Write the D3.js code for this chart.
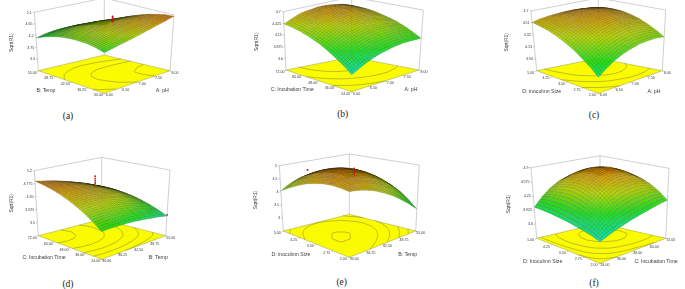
<!DOCTYPE html>
<html>
<head>
<meta charset="utf-8">
<script src="https://cdn.jsdelivr.net/npm/d3@7"></script>
<style>
  html, body { margin: 0; padding: 0; background: #fff; }
  svg { display: block; }
  text { font-family: "Liberation Sans", Arial, sans-serif; fill: #3a3a3a; }
  .caption { font-family: "Liberation Serif", "Times New Roman", serif; fill: #222; font-size: 9.5px; }
</style>
</head>
<body>
<script>
// factor ticks
const phTicks = [6, 6.5, 7, 7.5, 8];
const tempTicks = [30, 36.25, 42.5, 48.75, 55];
const timeTicks = [24, 36, 48, 60, 72];
const sizeTicks = [2, 2.75, 3.5, 4.25, 5];

// response axis ticks per plot
const zTicksA = [3.3, 3.75, 4.2, 4.65, 5.1];
const zTicksB = [3.6, 3.875, 4.15, 4.425, 4.7];
const zTicksC = [3.94, 4.13, 4.32, 4.51, 4.7];
const zTicksD = [3.5, 3.925, 4.35, 4.775, 5.2];
const zTicksE = [3, 3.5, 4, 4.5, 5];
const zTicksF = [3.6, 3.925, 4.25, 4.575, 4.9];

// Sqrt(R1). row = left floor axis low to high, column = right floor axis low to high
const surfaceA = [
  [4.34, 4.41, 4.49, 4.56, 4.65, 4.74, 4.84, 4.94, 5.05],
  [4.43, 4.50, 4.58, 4.65, 4.71, 4.79, 4.86, 4.94, 5.03],
  [4.48, 4.55, 4.61, 4.69, 4.75, 4.81, 4.86, 4.91, 4.96],
  [4.49, 4.56, 4.64, 4.70, 4.75, 4.79, 4.83, 4.85, 4.88],
  [4.48, 4.55, 4.63, 4.68, 4.71, 4.75, 4.76, 4.76, 4.76],
  [4.44, 4.51, 4.58, 4.63, 4.65, 4.66, 4.66, 4.65, 4.63],
  [4.36, 4.44, 4.49, 4.54, 4.55, 4.56, 4.54, 4.50, 4.45],
  [4.25, 4.33, 4.38, 4.41, 4.43, 4.41, 4.39, 4.33, 4.25],
  [4.11, 4.19, 4.24, 4.26, 4.26, 4.24, 4.19, 4.13, 4.03]
];
const surfaceB = [
  [3.69, 3.79, 3.88, 3.95, 4.00, 4.04, 4.06, 4.06, 4.05],
  [3.84, 3.95, 4.04, 4.11, 4.16, 4.19, 4.20, 4.19, 4.16],
  [3.96, 4.08, 4.18, 4.25, 4.30, 4.33, 4.33, 4.30, 4.26],
  [4.08, 4.20, 4.30, 4.36, 4.41, 4.43, 4.43, 4.39, 4.34],
  [4.18, 4.30, 4.39, 4.46, 4.50, 4.51, 4.50, 4.46, 4.40],
  [4.26, 4.38, 4.46, 4.54, 4.58, 4.58, 4.56, 4.51, 4.45],
  [4.33, 4.44, 4.53, 4.59, 4.61, 4.63, 4.60, 4.55, 4.49],
  [4.38, 4.48, 4.56, 4.61, 4.64, 4.64, 4.63, 4.58, 4.50],
  [4.41, 4.50, 4.58, 4.61, 4.64, 4.64, 4.61, 4.58, 4.50]
];
const surfaceC = [
  [3.99, 4.08, 4.16, 4.22, 4.26, 4.29, 4.30, 4.30, 4.28],
  [4.10, 4.19, 4.27, 4.33, 4.37, 4.40, 4.40, 4.39, 4.36],
  [4.19, 4.29, 4.37, 4.43, 4.47, 4.49, 4.49, 4.47, 4.43],
  [4.28, 4.37, 4.45, 4.50, 4.54, 4.56, 4.55, 4.53, 4.49],
  [4.35, 4.44, 4.51, 4.56, 4.59, 4.60, 4.60, 4.57, 4.53],
  [4.41, 4.49, 4.55, 4.59, 4.62, 4.63, 4.62, 4.60, 4.56],
  [4.46, 4.52, 4.57, 4.61, 4.63, 4.64, 4.63, 4.61, 4.57],
  [4.49, 4.54, 4.58, 4.61, 4.62, 4.63, 4.62, 4.60, 4.57],
  [4.52, 4.55, 4.57, 4.58, 4.59, 4.59, 4.58, 4.57, 4.55]
];
const surfaceD = [
  [3.90, 3.91, 3.91, 3.90, 3.88, 3.85, 3.81, 3.77, 3.71],
  [4.09, 4.12, 4.12, 4.12, 4.09, 4.05, 4.00, 3.93, 3.84],
  [4.26, 4.29, 4.31, 4.30, 4.27, 4.22, 4.15, 4.06, 3.94],
  [4.41, 4.45, 4.46, 4.45, 4.41, 4.35, 4.27, 4.16, 4.03],
  [4.54, 4.57, 4.58, 4.56, 4.52, 4.45, 4.36, 4.24, 4.10],
  [4.65, 4.67, 4.67, 4.64, 4.59, 4.52, 4.42, 4.30, 4.15],
  [4.74, 4.75, 4.73, 4.69, 4.63, 4.55, 4.45, 4.33, 4.18],
  [4.81, 4.79, 4.76, 4.71, 4.64, 4.56, 4.45, 4.33, 4.20],
  [4.86, 4.81, 4.76, 4.69, 4.61, 4.52, 4.42, 4.31, 4.19]
];
const surfaceE = [
  [4.65, 4.62, 4.55, 4.45, 4.30, 4.12, 3.89, 3.63, 3.33],
  [4.70, 4.73, 4.71, 4.65, 4.54, 4.38, 4.17, 3.92, 3.62],
  [4.72, 4.80, 4.82, 4.79, 4.71, 4.58, 4.39, 4.15, 3.86],
  [4.70, 4.82, 4.88, 4.88, 4.83, 4.72, 4.55, 4.32, 4.03],
  [4.64, 4.79, 4.88, 4.91, 4.88, 4.79, 4.64, 4.43, 4.15],
  [4.55, 4.72, 4.83, 4.88, 4.87, 4.80, 4.67, 4.47, 4.21],
  [4.41, 4.60, 4.73, 4.80, 4.80, 4.75, 4.63, 4.46, 4.22],
  [4.24, 4.44, 4.58, 4.65, 4.67, 4.63, 4.53, 4.38, 4.16],
  [4.04, 4.23, 4.37, 4.45, 4.48, 4.45, 4.37, 4.24, 4.05]
];
const surfaceF = [
  [3.71, 3.78, 3.85, 3.91, 3.97, 4.02, 4.07, 4.12, 4.16],
  [3.77, 3.93, 4.06, 4.17, 4.25, 4.31, 4.34, 4.35, 4.32],
  [3.82, 4.05, 4.23, 4.38, 4.48, 4.53, 4.55, 4.52, 4.45],
  [3.86, 4.14, 4.36, 4.53, 4.64, 4.70, 4.70, 4.65, 4.54],
  [3.90, 4.20, 4.44, 4.62, 4.74, 4.80, 4.79, 4.72, 4.59],
  [3.93, 4.24, 4.49, 4.67, 4.78, 4.83, 4.82, 4.74, 4.60],
  [3.96, 4.25, 4.48, 4.65, 4.76, 4.81, 4.79, 4.71, 4.57],
  [3.98, 4.24, 4.44, 4.59, 4.68, 4.72, 4.71, 4.64, 4.51],
  [3.99, 4.19, 4.35, 4.47, 4.54, 4.57, 4.56, 4.51, 4.41]
];

// observed runs: left factor, right factor, Sqrt(R1)
const pointsA = [[41, 7.12, 4.82], [41, 7.12, 4.87], [41, 7.12, 4.92], [41, 7.12, 4.97], [41, 7.12, 5.02]];
const pointsD = [[50.4, 41.25, 4.83], [50.4, 41.25, 4.9], [50.4, 41.25, 4.97], [50.4, 41.25, 5.05], [24, 55, 3.75]];
const pointsE = [[3.4, 43.4, 4.7], [3.4, 43.4, 4.78], [3.4, 43.4, 4.85], [3.4, 43.4, 4.92], [4.7, 37.5, 4.75]];

// contour levels drawn on the floor
const levelsA = [4.45, 4.65, 4.85];
const levelsB = [4.0, 4.3, 4.55];
const levelsC = [4.2, 4.4, 4.55];
const levelsD = [3.9, 4.1, 4.3, 4.5, 4.7];
const levelsE = [3.6, 3.9, 4.2, 4.5, 4.875];
const levelsF = [3.85, 4.1, 4.4, 4.7];

const surfaceColors = ["#08e0d0", "#20e020", "#b8d800", "#d8a800", "#d86c00"];

// layout of each plot: floor and top corners of the box in page pixels
const panels = [
  { name: "(a)", values: surfaceA, zTicks: zTicksA, zFloor: 2.85, points: pointsA, levels: levelsA,
    colorAt: [3.9, 4.3, 4.65, 4.85, 5.05], left: tempTicks, right: phTicks,
    leftTitle: "B: Temp", rightTitle: "A: pH",
    floor: { F: [104.3, 93.3], L: [38.3, 70.7], R: [170, 70.7], B: [104.3, 55] },
    top: { F: [104.3, 32], L: [34.3, 12.3], R: [174, 15], B: [104.3, -2] },
    leftAt: [46, 92], rightAt: [162.3, 92], zAt: [12.7, 42.7], capAt: [68, 119] },
  { name: "(b)", values: surfaceB, zTicks: zTicksB, zFloor: 3.325, points: [], levels: levelsB,
    colorAt: [3.69, 4.05, 4.42, 4.6, 4.75], left: timeTicks, right: phTicks,
    leftTitle: "C: Incubation Time", rightTitle: "A: pH",
    floor: { F: [351.7, 91.7], L: [286, 70], R: [419, 70], B: [351.7, 57] },
    top: { F: [351.7, 28], L: [283.3, 11.7], R: [423.3, 10], B: [351.7, -3] },
    leftAt: [292.3, 91], rightAt: [411, 91], zAt: [258.3, 41.7], capAt: [342.7, 117] },
  { name: "(c)", values: surfaceC, zTicks: zTicksC, zFloor: 3.75, points: [], levels: levelsC,
    colorAt: [3.85, 4.15, 4.42, 4.58, 4.75], left: sizeTicks, right: phTicks,
    leftTitle: "D: inoculmn Size", rightTitle: "A: pH",
    floor: { F: [598.3, 93.3], L: [536.7, 70.7], R: [662.3, 70.7], B: [598.3, 58.3] },
    top: { F: [598.3, 30], L: [531, 11], R: [665.7, 10], B: [598.3, -2] },
    leftAt: [541.7, 93], rightAt: [654, 93], zAt: [508.3, 42.3], capAt: [594, 118] },
  { name: "(d)", values: surfaceD, zTicks: zTicksD, zFloor: 3.075, points: pointsD, levels: levelsD,
    colorAt: [3.6, 3.95, 4.35, 4.65, 4.9], left: timeTicks, right: tempTicks,
    leftTitle: "C: Incubation Time", rightTitle: "B: Temp",
    floor: { F: [101.7, 259.3], L: [38.3, 235.7], R: [165.7, 235.7], B: [101.7, 219.3] },
    top: { F: [101.7, 188], L: [34.3, 170.7], R: [170, 170], B: [101.7, 157.3] },
    leftAt: [44, 259], rightAt: [158.3, 259], zAt: [12.7, 203.3], capAt: [68, 287] },
  { name: "(e)", values: surfaceE, zTicks: zTicksE, zFloor: 2.5, points: pointsE, levels: levelsE,
    colorAt: [3.0, 3.6, 4.3, 4.7, 5.0], left: sizeTicks, right: tempTicks,
    leftTitle: "D: inoculmn Size", rightTitle: "B: Temp",
    floor: { F: [349.3, 257.3], L: [283.3, 231], R: [415.7, 231], B: [349.3, 214.3] },
    top: { F: [349.3, 181], L: [279.3, 165.7], R: [419.3, 165], B: [349.3, 154] },
    leftAt: [291, 255.5], rightAt: [407.7, 255.5], zAt: [257.3, 200], capAt: [341.7, 285] },
  { name: "(f)", values: surfaceF, zTicks: zTicksF, zFloor: 3.275, points: [], levels: levelsF,
    colorAt: [3.7, 4.1, 4.45, 4.7, 4.9], left: sizeTicks, right: timeTicks,
    leftTitle: "D: Inoculmn Size", rightTitle: "C: Incubation Time",
    floor: { F: [600, 263.3], L: [536.7, 238.3], R: [665.7, 238.3], B: [600, 223.3] },
    top: { F: [600, 183], L: [531, 167.7], R: [669, 168.3], B: [600, 155.7] },
    leftAt: [542.7, 262.5], rightAt: [656, 262.5], zAt: [510, 204], capAt: [594, 286] }
];

const width = 685;
const height = 289;

const svg = d3.select("body").append("svg").attr("width", width).attr("height", height);

const defs = svg.append("defs");
defs.append("filter").attr("id", "soft").append("feGaussianBlur").attr("stdDeviation", 0.3);
defs.append("filter").attr("id", "softer").attr("x", "-5%").attr("y", "-5%").attr("width", "110%").attr("height", "110%")
  .append("feGaussianBlur").attr("stdDeviation", 0.45);

function corner(q, u, v) {
  return [0, 1].map(k => (1 - u) * (1 - v) * q.F[k] + u * (1 - v) * q.L[k] + (1 - u) * v * q.R[k] + u * v * q.B[k]);
}

function drawPanel(p) {
  const g = svg.append("g").attr("filter", "url(#soft)");
  const leftScale = d3.scaleLinear().domain(d3.extent(p.left)).range([0, 1]);
  const rightScale = d3.scaleLinear().domain(d3.extent(p.right)).range([0, 1]);
  const zTop = d3.max(p.zTicks);
  const zScale = d3.scaleLinear().domain([p.zFloor, zTop]).range([0, 1]);
  const colorScale = d3.scaleLinear().domain(p.colorAt).range(surfaceColors).clamp(true);

  const project = (u, v, h) => {
    const a = corner(p.floor, u, v);
    const b = corner(p.top, u, v);
    return [a[0] + (b[0] - a[0]) * h, a[1] + (b[1] - a[1]) * h];
  };
  const line = d3.line();

  // box behind the surface
  const frame = g.append("g").attr("fill", "none").attr("stroke", "#b0b0b0").attr("stroke-width", 0.6);
  frame.append("path").attr("d", line([p.floor.L, p.top.L, p.top.B, p.top.R, p.floor.R]));
  frame.append("path").attr("d", line([p.floor.B, p.top.B]));

  // floor with its contour lines
  g.append("path")
    .attr("d", line([p.floor.F, p.floor.L, p.floor.B, p.floor.R]) + "Z")
    .attr("fill", "#fbfb00")
    .attr("stroke", "#9a9a50")
    .attr("stroke-width", 0.5);

  const n = p.values.length;
  const indexScale = d3.scaleLinear().domain([0, n - 1]).range([0, 1]);
  const contourPos = d3.scaleLinear().domain([0.5, n - 0.5]).range([0, 1]).clamp(true);
  const contours = d3.contours().size([n, n]).thresholds(p.levels)(p.values.flat());
  let contourPath = "";
  contours.forEach(c => c.coordinates.forEach(poly => poly.forEach(ring => {
    const uv = ring.map(pt => [contourPos(pt[1]), contourPos(pt[0])]);
    for (let k = 1; k < uv.length; k++) {
      const a = uv[k - 1], b = uv[k];
      // the ring closes round the grid border, those parts are not contour lines
      const onEdge = [0, 1].some(d => (a[d] === 0 && b[d] === 0) || (a[d] === 1 && b[d] === 1));
      if (onEdge) continue;
      contourPath += line([project(a[0], a[1], 0), project(b[0], b[1], 0)]);
    }
  })));
  g.append("path").attr("d", contourPath).attr("fill", "none").attr("stroke", "#8c8c3c").attr("stroke-width", 0.55);

  // surface, far corner first. each read-off cell is flat and carries a fine wire mesh, shaded between its corners
  const meshPerCell = 4;
  const cells = [];
  for (let i = n - 2; i >= 0; i--) {
    for (let j = n - 2; j >= 0; j--) {
      const v = p.values;
      const at = (a, b) => project(indexScale(a), indexScale(b), zScale(v[a][b]));
      const c00 = at(i, j), c10 = at(i + 1, j), c01 = at(i, j + 1), c11 = at(i + 1, j + 1);
      const z00 = v[i][j], z10 = v[i + 1][j], z01 = v[i][j + 1], z11 = v[i + 1][j + 1];
      const mix = (s, t) => [0, 1].map(k =>
        (1 - s) * (1 - t) * c00[k] + s * (1 - t) * c10[k] + (1 - s) * t * c01[k] + s * t * c11[k]);
      for (let a = meshPerCell - 1; a >= 0; a--) {
        for (let b = meshPerCell - 1; b >= 0; b--) {
          const s0 = a / meshPerCell, s1 = (a + 1) / meshPerCell;
          const t0 = b / meshPerCell, t1 = (b + 1) / meshPerCell;
          const sm = (s0 + s1) / 2, tm = (t0 + t1) / 2;
          const shade = (1 - sm) * (1 - tm) * z00 + sm * (1 - tm) * z10 + (1 - sm) * tm * z01 + sm * tm * z11;
          cells.push({ quad: [mix(s0, t0), mix(s1, t0), mix(s1, t1), mix(s0, t1)], color: colorScale(shade) });
        }
      }
    }
  }
  g.append("g").attr("filter", "url(#softer)")
    .selectAll("path").data(cells).join("path")
    .attr("d", d => line(d.quad) + "Z")
    .attr("fill", d => d.color)
    .attr("stroke", "#000")
    .attr("stroke-opacity", 0.42)
    .attr("stroke-width", 0.3);

  // floor axes
  const tickFont = 3.6;
  const axes = [
    { ticks: p.left, at: t => project(leftScale(t), 0, 0), dx: -6, dy: 2, tx: -1.5 },
    { ticks: p.right, at: t => project(0, rightScale(t), 0), dx: 5, dy: 2, tx: 1.5 }
  ];
  axes.forEach(a => {
    a.ticks.forEach(t => {
      const pos = a.at(t);
      g.append("path").attr("d", line([pos, [pos[0] + a.tx, pos[1] + 1]]))
        .attr("stroke", "#777").attr("stroke-width", 0.4);
      g.append("text").attr("x", pos[0] + a.dx).attr("y", pos[1] + a.dy + 1)
        .attr("text-anchor", "middle").attr("font-size", tickFont)
        .text(d3.format(".2f")(t));
    });
  });

  // response axis on the left edge of the box
  p.zTicks.forEach(t => {
    const pos = [0, 1].map(k => p.floor.L[k] + (p.top.L[k] - p.floor.L[k]) * zScale(t));
    g.append("path").attr("d", line([pos, [pos[0] - 1.5, pos[1]]])).attr("stroke", "#777").attr("stroke-width", 0.4);
    g.append("text").attr("x", pos[0] - 2.5).attr("y", pos[1] + 1.3)
      .attr("text-anchor", "end").attr("font-size", tickFont).text(t);
  });

  g.append("text").attr("x", p.leftAt[0]).attr("y", p.leftAt[1]).attr("font-size", 5.2).attr("text-anchor", "middle").text(p.leftTitle);
  g.append("text").attr("x", p.rightAt[0]).attr("y", p.rightAt[1]).attr("font-size", 5.2).attr("text-anchor", "middle").text(p.rightTitle);
  g.append("text").attr("transform", `translate(${p.zAt[0]},${p.zAt[1]}) rotate(-90)`)
    .attr("text-anchor", "middle").attr("font-size", 4.9).text("Sqrt(R1)");

  // observed runs sit on top of the surface
  g.selectAll("circle.run").data(p.points).join("circle").attr("class", "run")
    .attr("cx", d => project(leftScale(d[0]), rightScale(d[1]), zScale(d[2]))[0])
    .attr("cy", d => project(leftScale(d[0]), rightScale(d[1]), zScale(d[2]))[1])
    .attr("r", 0.95)
    .attr("fill", "#c8141e");

  svg.append("text").attr("class", "caption").attr("x", p.capAt[0]).attr("y", p.capAt[1])
    .attr("text-anchor", "middle").text(p.name);
}

panels.forEach(drawPanel);
</script>
</body>
</html>
